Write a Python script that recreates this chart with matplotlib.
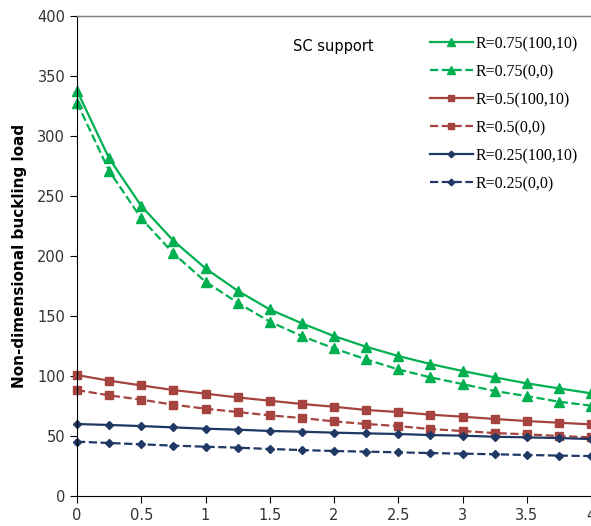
import numpy as np
import matplotlib.pyplot as plt

# x positions (0 to 4 in steps of 0.25)
x = np.arange(0, 4.01, 0.25)

# valores
r075_100_10 = [337.8, 281.4, 241.7, 212.8, 189.7, 171.1, 155.5, 143.9, 133.3,
               124.4, 116.7, 110.0, 104.2, 98.9, 93.9, 89.7, 85.6]
r075_0_0 = [327.8, 271.0, 231.4, 202.2, 178.6, 161.1, 145.3, 133.3, 123.0,
            113.9, 105.5, 98.9, 93.3, 87.5, 83.3, 78.6, 75.3]
r05_100_10 = [100.8, 96.1, 92.2, 88.3, 85.3, 82.2, 79.4, 76.7, 74.4,
              71.7, 70.0, 67.8, 66.1, 64.2, 62.5, 61.1, 59.7]
r05_0_0 = [88.3, 83.9, 80.3, 76.1, 72.8, 70.0, 67.2, 65.0, 62.2,
           60.0, 58.3, 55.8, 54.2, 52.5, 51.4, 50.0, 48.9]
r025_100_10 = [60.0, 59.2, 58.3, 57.2, 56.1, 55.3, 54.2, 53.6, 52.8,
               52.2, 51.7, 50.8, 50.3, 49.4, 48.9, 48.3, 47.5]
r025_0_0 = [45.3, 44.2, 43.1, 42.0, 41.1, 40.3, 39.2, 38.3, 37.5,
            37.0, 36.4, 35.8, 35.3, 34.8, 34.2, 33.7, 33.3]

green = "#00B050"
red = "#A5433F"
blue = "#1F3864"

fig = plt.figure(figsize=(5.91, 5.26), dpi=100)
ax = fig.add_axes([0.1303, 0.057, 0.8697, 0.9125])

ax.plot(x, r075_100_10, color=green, lw=1.6, marker="^", ms=7, label="R=0.75(100,10)", clip_on=False)
ax.plot(x, r075_0_0, color=green, lw=1.6, ls="--", marker="^", ms=7, label="R=0.75(0,0)", clip_on=False)
ax.plot(x, r05_100_10, color=red, lw=1.6, marker="s", ms=6, label="R=0.5(100,10)", clip_on=False)
ax.plot(x, r05_0_0, color=red, lw=1.6, ls="--", marker="s", ms=6, label="R=0.5(0,0)", clip_on=False)
ax.plot(x, r025_100_10, color=blue, lw=1.6, marker="D", ms=4.5, label="R=0.25(100,10)", clip_on=False)
ax.plot(x, r025_0_0, color=blue, lw=1.6, ls="--", marker="D", ms=4.5, label="R=0.25(0,0)", clip_on=False)

ax.set_xlim(0, 4)
ax.set_ylim(0, 400)
ax.set_xticks(np.arange(0, 4.01, 0.5))
ax.set_xticklabels(["0", "0.5", "1", "1.5", "2", "2.5", "3", "3.5", "4"])
ax.set_yticks(np.arange(0, 401, 50))
ax.tick_params(labelsize=10.5, colors="black", length=5)
for lab in ax.get_xticklabels() + ax.get_yticklabels():
    lab.set_color("#333333")

ax.spines["top"].set_color("#7f7f7f")
ax.spines["right"].set_visible(False)
ax.axhline(400, color="#7f7f7f", lw=1, clip_on=False)

ax.set_ylabel("Non-dimensional buckling load", fontsize=11, fontweight="bold", labelpad=7)

ax.text(0.42, 0.928, "SC support", transform=ax.transAxes, fontsize=10.5)

leg = ax.legend(loc="upper right", bbox_to_anchor=(1.0, 0.985), frameon=False,
                prop={"family": "Liberation Serif", "size": 11.5},
                handlelength=2.7, handletextpad=0.2, labelspacing=0.75,
                markerscale=0.75, borderpad=0.3)

plt.savefig("out.png", dpi=100)
